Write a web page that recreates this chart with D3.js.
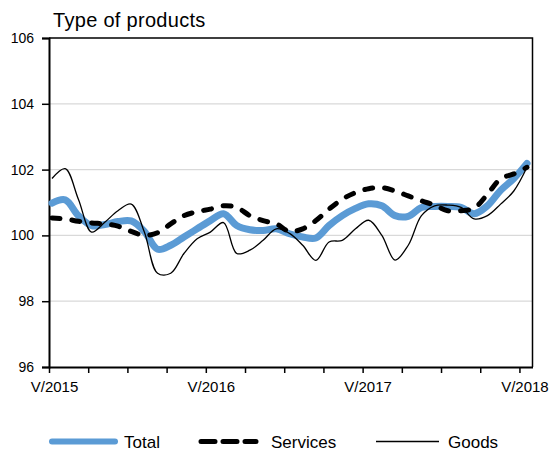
<!DOCTYPE html>
<html>
<head>
<meta charset="utf-8">
<script src="https://cdn.jsdelivr.net/npm/d3@7"></script>
<style>
  body { margin: 0; background: #fff; }
  text { font-family: "Liberation Sans", Arial, sans-serif; fill: #000; }
</style>
</head>
<body>
<div class="draw"></div>
<script>
// months V/2015 .. V/2018, one value per month
var months = d3.range(0, 37);
var tickLabels = ['V/2015', '', '', '', 'V/2016', '', '', '', 'V/2017', '', '', '', 'V/2018'];
var yTicks = [96, 98, 100, 102, 104, 106];

var total = [100.98, 101.08, 100.6, 100.3, 100.33, 100.42, 100.44, 100.12, 99.58, 99.7,
             99.95, 100.2, 100.45, 100.66, 100.3, 100.17, 100.15, 100.2, 100.05, 99.95,
             99.92, 100.3, 100.6, 100.82, 100.96, 100.9, 100.6, 100.58, 100.85, 100.88,
             100.88, 100.85, 100.66, 100.9, 101.37, 101.73, 102.19];
var services = [100.53, 100.5, 100.43, 100.38, 100.35, 100.28, 100.12, 100.0, 100.08, 100.35,
                100.6, 100.72, 100.8, 100.9, 100.85, 100.6, 100.45, 100.35, 100.12, 100.2,
                100.45, 100.8, 101.1, 101.3, 101.42, 101.45, 101.35, 101.2, 101.05, 100.92,
                100.75, 100.75, 100.83, 101.25, 101.72, 101.87, 102.07];
var goods = [101.73, 102.03, 101.1, 100.1, 100.4, 100.75, 100.95, 100.1, 98.85, 98.85,
             99.45, 99.9, 100.1, 100.39, 99.45, 99.55, 99.85, 100.2, 100.06, 99.7,
             99.24, 99.8, 99.85, 100.2, 100.46, 100.0, 99.25, 99.7, 100.6, 100.9,
             100.92, 100.85, 100.5, 100.6, 100.95, 101.35, 102.07];

var width = 552, height = 452;
var pLeft = 49, pRight = 532.5, pTop = 38, pBottom = 367;

var svg = d3.select(".draw").append("svg")
    .attr("width", width)
    .attr("height", height);

// axis scale: one unit per month, plot runs one month past V/2018
var xAxisScale = d3.scaleLinear().domain([0, 37]).range([pLeft, pRight]);
// data points sit slightly inside
var x = d3.scaleLinear().domain([0, 36]).range([52, 527]);
var y = d3.scaleLinear().domain([96, 106]).range([pBottom, pTop]);

// gridlines
svg.append('g').selectAll('line')
    .data([98, 100, 102, 104])
    .enter().append('line')
    .attr('x1', pLeft).attr('x2', pRight)
    .attr('y1', function (d) { return y(d); })
    .attr('y2', function (d) { return y(d); })
    .attr('stroke', '#d9d9d9')
    .attr('stroke-width', 1.3);

// frame top / right
svg.append('path')
    .attr('d', 'M' + pLeft + ',' + pTop + 'H' + pRight + 'V' + pBottom)
    .attr('fill', 'none')
    .attr('stroke', '#000')
    .attr('stroke-width', 1.5);

// y axis
var yaxis = d3.axisLeft(y).tickValues(yTicks).tickSize(7).tickPadding(8);
var gy = svg.append('g')
    .attr('transform', 'translate(' + pLeft + ',0)')
    .call(yaxis);
gy.select('.domain').attr('stroke-width', 2);
gy.selectAll('.tick line').attr('stroke-width', 1.5);
gy.selectAll('text').attr('font-size', 14).style('font-family', '"Liberation Sans", Arial, sans-serif');

// x axis
var xaxis = d3.axisBottom(xAxisScale)
    .tickValues(d3.range(0, 37, 3))
    .tickSize(6)
    .tickSizeOuter(0)
    .tickPadding(8)
    .tickFormat(function (d, i) { return tickLabels[i]; });
var gx = svg.append('g')
    .attr('transform', 'translate(0,' + pBottom + ')')
    .call(xaxis);
gx.select('.domain').attr('stroke-width', 2);
gx.selectAll('.tick line').attr('stroke-width', 1.5);
gx.selectAll('text').attr('font-size', 15).attr('dx', 5).style('font-family', '"Liberation Sans", Arial, sans-serif');

var line = function (vals) {
    return d3.line()
        .x(function (d, i) { return x(i); })
        .y(function (d) { return y(d); })
        .curve(d3.curveCatmullRom.alpha(0.5))(vals);
};

svg.append('path')
    .attr('d', line(total))
    .attr('fill', 'none')
    .attr('stroke', '#5b9bd5')
    .attr('stroke-width', 7)
    .attr('stroke-linecap', 'round')
    .attr('stroke-linejoin', 'round');

svg.append('path')
    .attr('d', line(services))
    .attr('fill', 'none')
    .attr('stroke', '#000')
    .attr('stroke-width', 5)
    .attr('stroke-linecap', 'round')
    .attr('stroke-dasharray', '8,12');

svg.append('path')
    .attr('d', line(goods))
    .attr('fill', 'none')
    .attr('stroke', '#000')
    .attr('stroke-width', 1.3);

// title
svg.append('text')
    .attr('x', 53).attr('y', 27)
    .attr('font-size', 20)
    .attr('letter-spacing', 0.3)
    .text('Type of products');

// legend
var legY = 441.5;
var leg = svg.append('g');
leg.append('line').attr('x1', 52).attr('x2', 115).attr('y1', legY).attr('y2', legY)
    .attr('stroke', '#5b9bd5').attr('stroke-width', 6).attr('stroke-linecap', 'round');
leg.append('text').attr('x', 124).attr('y', legY + 6).attr('font-size', 17).text('Total');
leg.append('line').attr('x1', 201).attr('x2', 256).attr('y1', legY).attr('y2', legY)
    .attr('stroke', '#000').attr('stroke-width', 5).attr('stroke-linecap', 'round')
    .attr('stroke-dasharray', '14,8');
leg.append('text').attr('x', 271).attr('y', legY + 6).attr('font-size', 17).text('Services');
leg.append('line').attr('x1', 376).attr('x2', 439).attr('y1', legY).attr('y2', legY)
    .attr('stroke', '#000').attr('stroke-width', 1.3);
leg.append('text').attr('x', 448).attr('y', legY + 6).attr('font-size', 17).text('Goods');
</script>
</body>
</html>
